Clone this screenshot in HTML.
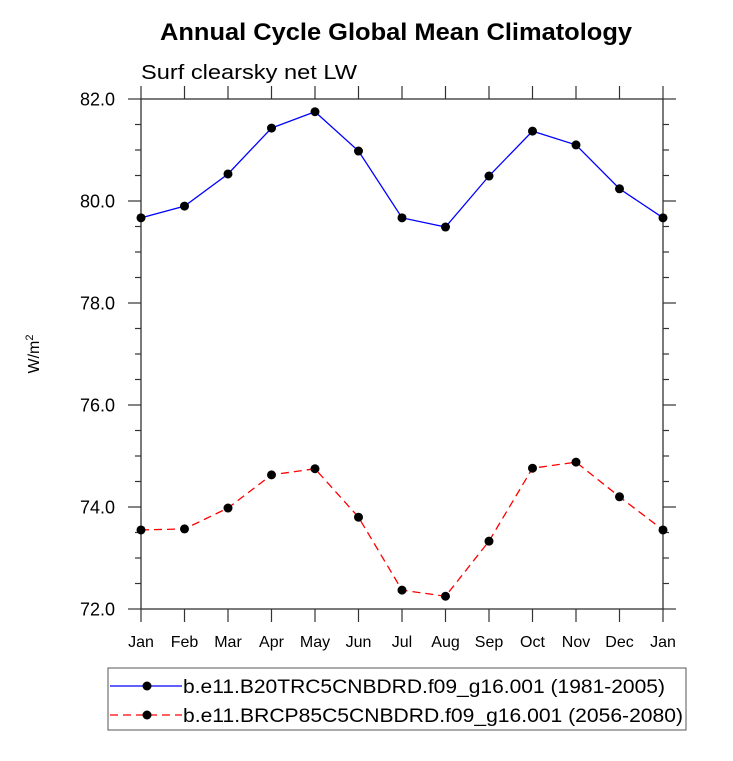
<!DOCTYPE html>
<html><head><meta charset="utf-8"><style>
body{margin:0;background:#fff}
svg text{font-family:"Liberation Sans",sans-serif}
</style></head><body>
<svg id="c" width="733" height="756" xmlns="http://www.w3.org/2000/svg">
<text x="160" y="40" font-size="24" font-weight="bold" textLength="472" lengthAdjust="spacingAndGlyphs">Annual Cycle Global Mean Climatology</text>
<text x="141" y="79" font-size="20" textLength="216" lengthAdjust="spacingAndGlyphs">Surf clearsky net LW</text>
<text transform="translate(39,354) rotate(-90)" font-size="16" text-anchor="middle">W/m<tspan dy="-6" font-size="11">2</tspan></text>
<g id="axes"></g>
<g id="series"></g>
<g>
<rect x="108" y="668" width="578" height="62" fill="none" stroke="#555" stroke-width="1"/>
<line x1="110" y1="686" x2="182" y2="686" stroke="#00f" stroke-width="1.3"/>
<circle cx="147" cy="686" r="4.5"/>
<text x="183" y="693" font-size="19" textLength="482" lengthAdjust="spacingAndGlyphs">b.e11.B20TRC5CNBDRD.f09_g16.001 (1981-2005)</text>
<line x1="110" y1="715" x2="182" y2="715" stroke="#f00" stroke-width="1.3" stroke-dasharray="8,5"/>
<circle cx="147" cy="715" r="4.5"/>
<text x="183" y="722" font-size="19" textLength="500" lengthAdjust="spacingAndGlyphs">b.e11.BRCP85C5CNBDRD.f09_g16.001 (2056-2080)</text>
</g>
</svg>
<script>
const months=["Jan","Feb","Mar","Apr","May","Jun","Jul","Aug","Sep","Oct","Nov","Dec","Jan"];
const histVals=[79.67,79.90,80.53,81.43,81.75,80.98,79.67,79.49,80.49,81.37,81.10,80.24,79.67];
const rcpVals=[73.55,73.57,73.98,74.63,74.75,73.80,72.37,72.25,73.33,74.76,74.88,74.20,73.55];
const yTicks=[72,74,76,78,80,82];
const yTickLabels=["72.0","74.0","76.0","78.0","80.0","82.0"];
const NS="http://www.w3.org/2000/svg";
const L=141,R=663,T=99,B=609,ymin=72,ymax=82;
const xs=i=>L+(R-L)*i/(months.length-1);
const ys=v=>B-(v-ymin)/(ymax-ymin)*(B-T);
function mk(tag,at,parent){const e=document.createElementNS(NS,tag);for(const k in at)e.setAttribute(k,at[k]);parent.appendChild(e);return e;}
const ax=document.getElementById('axes');
const fr=mk('rect',{x:L,y:T,width:R-L,height:B-T,fill:'none',stroke:'#333','stroke-width':1.3},ax);


months.forEach((m,i)=>{
  const x=xs(i);
  mk('line',{x1:x,y1:B,x2:x,y2:B+13,stroke:'#333','stroke-width':1.2},ax);
  mk('line',{x1:x,y1:T,x2:x,y2:T-13,stroke:'#333','stroke-width':1.2},ax);
  const t=mk('text',{x:x,y:647,'font-size':16,'text-anchor':'middle'},ax);t.textContent=m;
  
  
});
for(let v=ymin;v<=ymax+1e-9;v+=0.5){
  const y=ys(v),maj=Math.abs(v/2-Math.round(v/2))<1e-6,len=maj?13:6;
  mk('line',{x1:L,y1:y,x2:L-len,y2:y,stroke:'#333','stroke-width':1.2},ax);
  mk('line',{x1:R,y1:y,x2:R+len,y2:y,stroke:'#333','stroke-width':1.2},ax);
}
yTicks.forEach((v,i)=>{
  const t=mk('text',{x:115,y:ys(v)+6.5,'font-size':18,'text-anchor':'end'},ax);t.textContent=yTickLabels[i];
  
  
});
const sg=document.getElementById('series');
function draw(vals,color,dash,name){
  const p=mk('polyline',{points:vals.map((v,i)=>xs(i)+','+ys(v)).join(' '),fill:'none',stroke:color,'stroke-width':1.3,'stroke-dasharray':dash},sg);
  
  
  vals.forEach((v,i)=>{const c=mk('circle',{cx:xs(i),cy:ys(v),r:4.5,fill:'#000'},sg);
    
    });
}
draw(histVals,'#00f','none','historical');
draw(rcpVals,'#f00','8,5','rcp85');
</script>
</body></html>
